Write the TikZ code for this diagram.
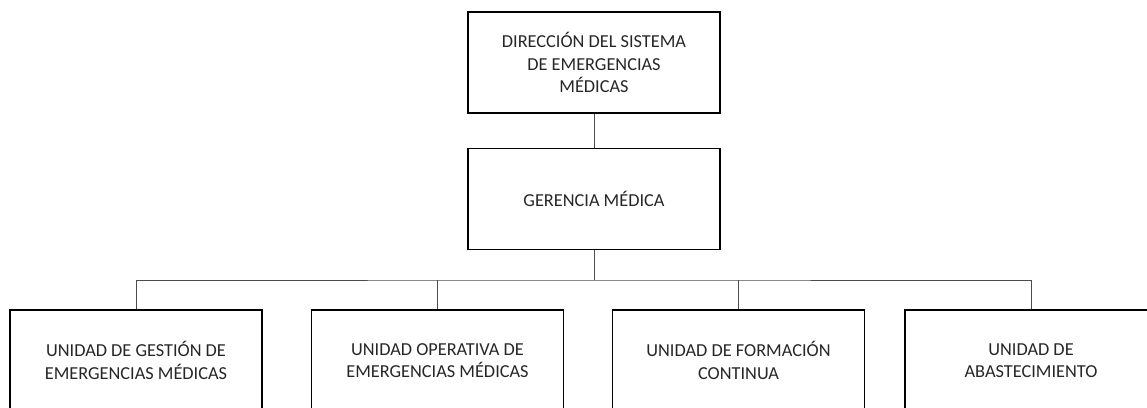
\documentclass[tikz,border=0pt]{standalone}
\usepackage{fontspec}
\setmainfont{Carlito}
\begin{document}
\begin{tikzpicture}[x=1pt,y=-1pt,
  unitbox/.style={draw=black,line width=1.6pt,minimum width=252pt,minimum height=101pt,
    align=center,inner sep=0pt,text=black!85,font=\fontsize{18.3}{22.5}\selectfont},
  link/.style={draw=black!70,line width=1pt}]
\useasboundingbox (0,0) rectangle (1147,407);
% jerarquia
\node [unitbox] (direccion) at (594,62.5) {DIRECCIÓN DEL SISTEMA\\DE EMERGENCIAS\\MÉDICAS};
\node [unitbox] (gerencia) at (594,199) {GERENCIA MÉDICA};
\node [unitbox] (gestion) at (136,360.5) {UNIDAD DE GESTIÓN DE\\EMERGENCIAS MÉDICAS};
\node [unitbox] (operativa) at (437.5,360.5) {UNIDAD OPERATIVA DE\\EMERGENCIAS MÉDICAS};
\node [unitbox] (formacion) at (738.5,360.5) {UNIDAD DE FORMACIÓN\\CONTINUA};
\node [unitbox] (abasto) at (1031,360.5) {UNIDAD DE\\ABASTECIMIENTO};
\coordinate (bus) at (594,280);
% lineas
\draw [link] (direccion) -- (gerencia);
\draw [link] (gerencia) -- (bus);
\draw [link] (gestion) |- (bus) -| (abasto);
\draw [link] (operativa) -- (operativa |- bus);
\draw [link] (formacion) -- (formacion |- bus);
\end{tikzpicture}
\end{document}
